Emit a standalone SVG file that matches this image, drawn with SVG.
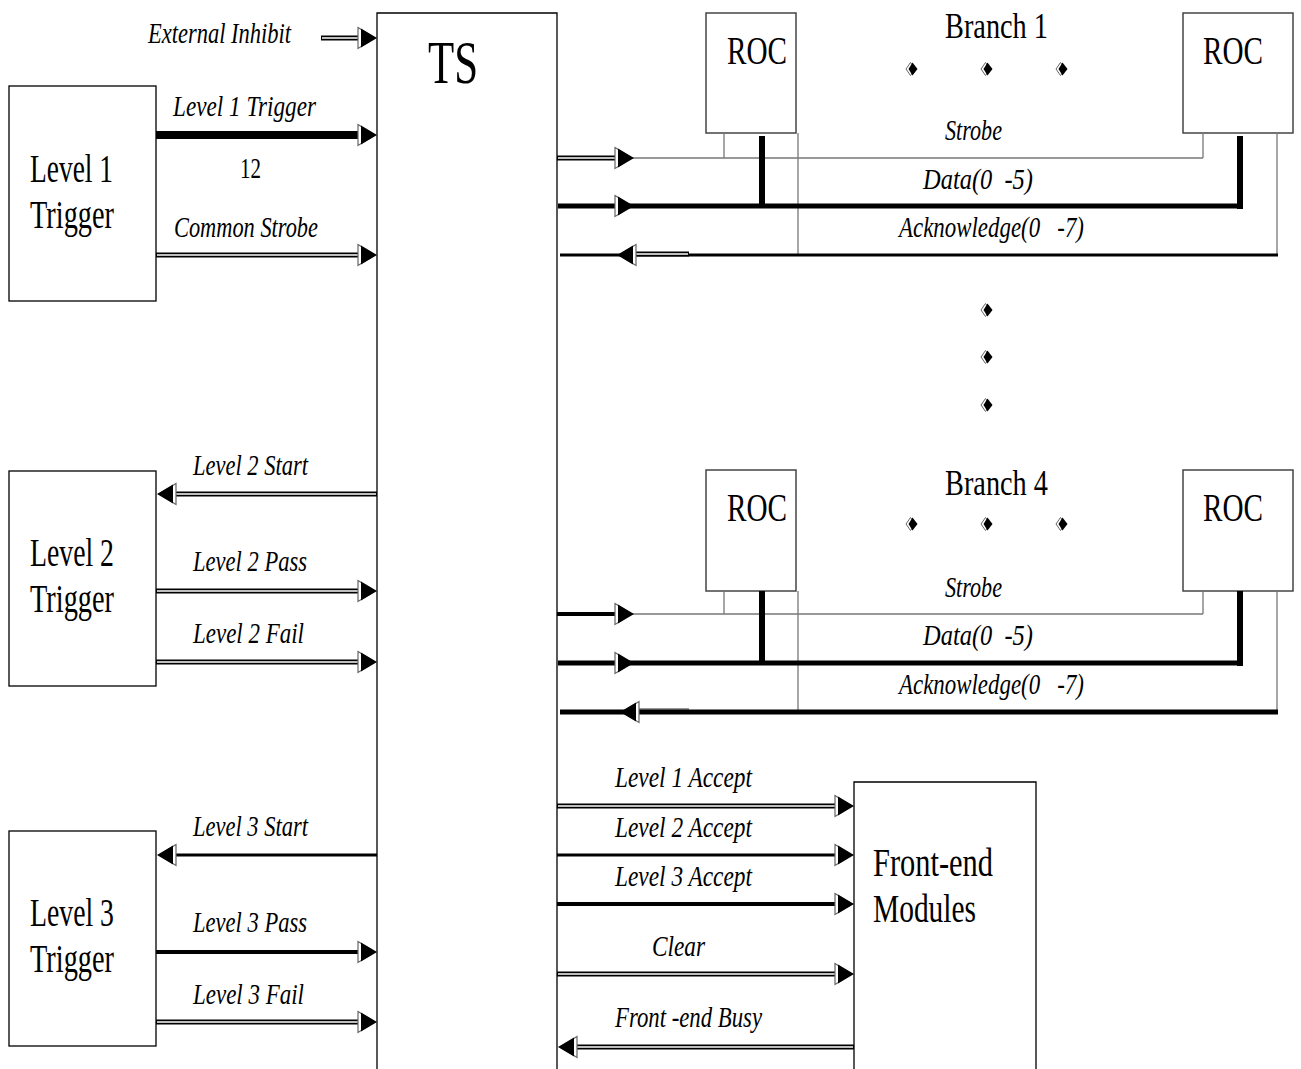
<svg xmlns="http://www.w3.org/2000/svg" xmlns:xlink="http://www.w3.org/1999/xlink" width="1301" height="1069" viewBox="0 0 1301 1069">
<style>
.box{fill:#fff;stroke:#000;stroke-width:1.3}
.roc{fill:#fff;stroke:#444;stroke-width:1.5}
.thin{stroke:#777;stroke-width:1.3;fill:none}
.blk{stroke:#000;fill:none}
.dO{stroke:#000;stroke-width:5;fill:none}
.dI{stroke:#fff;stroke-width:1.5;fill:none}
.lab{font-family:"Liberation Serif","Times New Roman",serif;font-style:italic;font-size:29px;fill:#000}
.big{font-family:"Liberation Serif","Times New Roman",serif;font-size:39px;fill:#000}
</style>
<defs>
<g id="hr"><polygon points="-19,-10.5 -2,0 -19,10.5" fill="#fff" stroke="#666" stroke-width="1.2"/><polygon points="-16,-9.5 0,0 -16,9.5" fill="#000"/></g>
<g id="hl"><polygon points="19,-10.5 2,0 19,10.5" fill="#fff" stroke="#666" stroke-width="1.2"/><polygon points="16,-9.5 0,0 16,9.5" fill="#000"/></g>
<g id="dm"><path d="M-1.5,-6.5 L3.5,0 L-1.5,6.5 L-6,0 Z" fill="#fff" stroke="#666" stroke-width="1"/><path d="M0.5,-6.5 L5.5,0 L0.5,6.5 L-3.5,0 Z" fill="#000"/></g>
</defs>
<rect width="1301" height="1069" fill="#fff"/>

<g id="ts"><path class="box" d="M377,1069 V13 H557 V1069" fill="#fff"/><text class="big" x="428" y="83" style="font-size:62px" textLength="50" lengthAdjust="spacingAndGlyphs">TS</text></g>

<g id="l1"><rect class="box" x="9" y="86" width="147" height="215"/><text class="big" x="30" y="182" textLength="83" lengthAdjust="spacingAndGlyphs">Level 1</text><text class="big" x="30" y="228" textLength="84" lengthAdjust="spacingAndGlyphs">Trigger</text></g>
<g id="l2"><rect class="box" x="9" y="471" width="147" height="215"/><text class="big" x="30" y="566" textLength="84" lengthAdjust="spacingAndGlyphs">Level 2</text><text class="big" x="30" y="612" textLength="84" lengthAdjust="spacingAndGlyphs">Trigger</text></g>
<g id="l3"><rect class="box" x="9" y="831" width="147" height="215"/><text class="big" x="30" y="926" textLength="84" lengthAdjust="spacingAndGlyphs">Level 3</text><text class="big" x="30" y="972" textLength="84" lengthAdjust="spacingAndGlyphs">Trigger</text></g>

<g id="roc1a"><rect class="roc" x="706" y="13" width="90" height="120"/><text class="big" x="727" y="64" textLength="60" lengthAdjust="spacingAndGlyphs">ROC</text></g>
<g id="roc1b"><rect class="roc" x="1183" y="13" width="110" height="120"/><text class="big" x="1203" y="64" textLength="60" lengthAdjust="spacingAndGlyphs">ROC</text></g>
<g id="roc4a"><rect class="roc" x="706" y="470" width="90" height="121"/><text class="big" x="727" y="521" textLength="60" lengthAdjust="spacingAndGlyphs">ROC</text></g>
<g id="roc4b"><rect class="roc" x="1183" y="470" width="110" height="121"/><text class="big" x="1203" y="521" textLength="60" lengthAdjust="spacingAndGlyphs">ROC</text></g>

<g id="fe"><path class="box" d="M854,1069 V782 H1036 V1069"/><text class="big" x="873" y="876" textLength="120" lengthAdjust="spacingAndGlyphs">Front-end</text><text class="big" x="873" y="922" textLength="103" lengthAdjust="spacingAndGlyphs">Modules</text></g>

<g id="branchlabels">
<text class="big" x="945" y="38" style="font-size:36px" textLength="103" lengthAdjust="spacingAndGlyphs">Branch 1</text>
<text class="big" x="945" y="495" style="font-size:36px" textLength="103" lengthAdjust="spacingAndGlyphs">Branch 4</text>
<use xlink:href="#dm" x="912" y="69"/><use xlink:href="#dm" x="987" y="69"/><use xlink:href="#dm" x="1062" y="69"/>
<use xlink:href="#dm" x="987" y="310"/><use xlink:href="#dm" x="987" y="357"/><use xlink:href="#dm" x="987" y="405"/>
<use xlink:href="#dm" x="912" y="524"/><use xlink:href="#dm" x="987" y="524"/><use xlink:href="#dm" x="1062" y="524"/>
</g>

<g id="connectors">
<line class="dO" x1="321" y1="38" x2="362" y2="38"/><line class="dI" x1="322" y1="38" x2="362" y2="38"/><use xlink:href="#hr" x="377" y="38"/>
<line class="blk" stroke-width="8" x1="156" y1="135" x2="362" y2="135"/><use xlink:href="#hr" x="377" y="135"/>
<line class="dO" x1="156" y1="255" x2="362" y2="255"/><line class="dI" x1="157" y1="255" x2="362" y2="255"/><use xlink:href="#hr" x="377" y="255"/>
<line class="dO" x1="377" y1="494" x2="172" y2="494"/><line class="dI" x1="376" y1="494" x2="172" y2="494"/><use xlink:href="#hl" x="157" y="494"/>
<line class="dO" stroke-width="6" x1="156" y1="591" x2="362" y2="591"/><line class="dI" x1="157" y1="591" x2="362" y2="591"/><use xlink:href="#hr" x="377" y="591"/>
<line class="dO" x1="156" y1="662" x2="362" y2="662"/><line class="dI" x1="157" y1="662" x2="362" y2="662"/><use xlink:href="#hr" x="377" y="662"/>
<line class="blk" stroke-width="3" x1="377" y1="855" x2="172" y2="855"/><use xlink:href="#hl" x="157" y="855"/>
<line class="blk" stroke-width="4" x1="156" y1="952" x2="362" y2="952"/><use xlink:href="#hr" x="377" y="952"/>
<line class="dO" x1="156" y1="1022" x2="362" y2="1022"/><line class="dI" x1="157" y1="1022" x2="362" y2="1022"/><use xlink:href="#hr" x="377" y="1022"/>

<line class="thin" x1="724" y1="133" x2="724" y2="158"/>
<line class="thin" x1="798" y1="133" x2="798" y2="255"/>
<line class="thin" x1="1203" y1="133" x2="1203" y2="158"/>
<line class="thin" x1="1277" y1="133" x2="1277" y2="255"/>
<line class="thin" x1="630" y1="158" x2="1203" y2="158"/>
<line class="dO" x1="557" y1="158" x2="620" y2="158"/><line class="dI" x1="558" y1="158" x2="620" y2="158"/><use xlink:href="#hr" x="634" y="158"/>
<line class="blk" stroke-width="6" x1="762" y1="136" x2="762" y2="206"/>
<line class="blk" stroke-width="6" x1="1240" y1="136" x2="1240" y2="209"/>
<line class="blk" stroke-width="5" x1="558" y1="206" x2="1243" y2="206"/><use xlink:href="#hr" x="634" y="206"/>
<line class="blk" stroke-width="3" x1="560" y1="255" x2="1278" y2="255"/>
<line class="dO" stroke-width="4" x1="628" y1="254" x2="689" y2="254"/><line class="dI" stroke-width="1.3" x1="628" y1="254" x2="688" y2="254"/><use xlink:href="#hl" x="617" y="255"/>

<line class="thin" x1="724" y1="591" x2="724" y2="614"/>
<line class="thin" x1="798" y1="591" x2="798" y2="712"/>
<line class="thin" x1="1203" y1="591" x2="1203" y2="614"/>
<line class="thin" x1="1277" y1="591" x2="1277" y2="712"/>
<line class="thin" x1="630" y1="614" x2="1203" y2="614"/>
<line class="blk" stroke-width="4" x1="557" y1="614" x2="620" y2="614"/><use xlink:href="#hr" x="634" y="614"/>
<line class="blk" stroke-width="6" x1="762" y1="591" x2="762" y2="663"/>
<line class="blk" stroke-width="6" x1="1240" y1="591" x2="1240" y2="666"/>
<line class="blk" stroke-width="5" x1="558" y1="663" x2="1243" y2="663"/><use xlink:href="#hr" x="634" y="663"/>
<line class="thin" x1="628" y1="709" x2="689" y2="709"/>
<line class="blk" stroke-width="5" x1="560" y1="712" x2="1278" y2="712"/><use xlink:href="#hl" x="620" y="712"/>

<line class="dO" stroke-width="5.5" x1="557" y1="806" x2="840" y2="806"/><line class="dI" x1="558" y1="806" x2="840" y2="806"/><use xlink:href="#hr" x="854" y="806"/>
<line class="blk" stroke-width="3" x1="557" y1="855" x2="840" y2="855"/><use xlink:href="#hr" x="854" y="855"/>
<line class="blk" stroke-width="4" x1="557" y1="904" x2="840" y2="904"/><use xlink:href="#hr" x="854" y="904"/>
<line class="dO" stroke-width="5.5" x1="557" y1="974" x2="840" y2="974"/><line class="dI" x1="558" y1="974" x2="840" y2="974"/><use xlink:href="#hr" x="854" y="974"/>
<line class="dO" x1="854" y1="1047" x2="573" y2="1047"/><line class="dI" x1="853" y1="1047" x2="573" y2="1047"/><use xlink:href="#hl" x="558" y="1047"/>
</g>

<g id="labels">
<text class="lab" x="148" y="43" textLength="143" lengthAdjust="spacingAndGlyphs">External Inhibit</text>
<text class="lab" x="173" y="116" textLength="143" lengthAdjust="spacingAndGlyphs">Level 1 Trigger</text>
<text class="big" x="240" y="178" style="font-size:30px" textLength="21" lengthAdjust="spacingAndGlyphs">12</text>
<text class="lab" x="174" y="237" textLength="144" lengthAdjust="spacingAndGlyphs">Common Strobe</text>
<text class="lab" x="193" y="475" textLength="115" lengthAdjust="spacingAndGlyphs">Level 2 Start</text>
<text class="lab" x="193" y="571" textLength="114" lengthAdjust="spacingAndGlyphs">Level 2 Pass</text>
<text class="lab" x="193" y="643" textLength="111" lengthAdjust="spacingAndGlyphs">Level 2 Fail</text>
<text class="lab" x="193" y="836" textLength="115" lengthAdjust="spacingAndGlyphs">Level 3 Start</text>
<text class="lab" x="193" y="932" textLength="114" lengthAdjust="spacingAndGlyphs">Level 3 Pass</text>
<text class="lab" x="193" y="1004" textLength="111" lengthAdjust="spacingAndGlyphs">Level 3 Fail</text>
<text class="lab" x="945" y="140" textLength="57" lengthAdjust="spacingAndGlyphs">Strobe</text>
<text class="lab" x="923" y="189" textLength="110" lengthAdjust="spacingAndGlyphs" xml:space="preserve">Data(0  -5)</text>
<text class="lab" x="899" y="237" textLength="185" lengthAdjust="spacingAndGlyphs" xml:space="preserve">Acknowledge(0   -7)</text>
<text class="lab" x="945" y="597" textLength="57" lengthAdjust="spacingAndGlyphs">Strobe</text>
<text class="lab" x="923" y="645" textLength="110" lengthAdjust="spacingAndGlyphs" xml:space="preserve">Data(0  -5)</text>
<text class="lab" x="899" y="694" textLength="185" lengthAdjust="spacingAndGlyphs" xml:space="preserve">Acknowledge(0   -7)</text>
<text class="lab" x="615" y="787" textLength="137" lengthAdjust="spacingAndGlyphs">Level 1 Accept</text>
<text class="lab" x="615" y="837" textLength="137" lengthAdjust="spacingAndGlyphs">Level 2 Accept</text>
<text class="lab" x="615" y="886" textLength="137" lengthAdjust="spacingAndGlyphs">Level 3 Accept</text>
<text class="lab" x="652" y="956" textLength="53" lengthAdjust="spacingAndGlyphs">Clear</text>
<text class="lab" x="615" y="1027" textLength="147" lengthAdjust="spacingAndGlyphs">Front -end Busy</text>
</g>
</svg>
